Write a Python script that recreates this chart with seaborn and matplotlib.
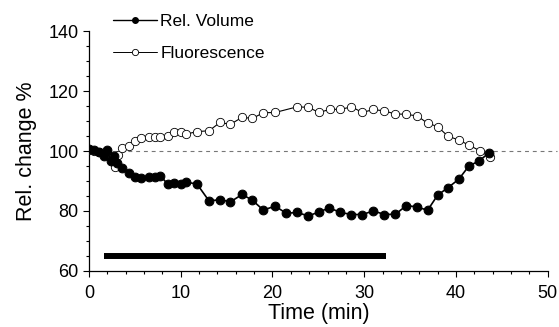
import numpy as np
import pandas as pd
import matplotlib
matplotlib.use('Agg')
import matplotlib.pyplot as plt
from matplotlib.lines import Line2D
from matplotlib.ticker import MultipleLocator
import seaborn as sns

# Values
time_vol = [0, 0.6, 1.1, 1.6, 2.0, 2.4, 2.7, 3.1, 3.6, 4.4, 5.0, 5.7, 6.5, 7.2, 7.8,
            8.6, 9.3, 10.0, 10.6, 11.8, 13.1, 14.3, 15.4, 16.7, 17.8, 19.0, 20.3,
            21.5, 22.7, 23.9, 25.1, 26.2, 27.4, 28.6, 29.8, 31.0, 32.2, 33.4, 34.6,
            35.8, 36.9, 38.0, 39.1, 40.3, 41.4, 42.5, 43.6]
rel_volume = [100.8, 100.2, 99.6, 98.2, 100.3, 96.8, 98.5, 96.0, 94.3, 92.7, 91.2,
              90.9, 91.4, 91.2, 91.7, 88.9, 89.2, 88.9, 89.7, 88.9, 83.3, 83.8, 83.0,
              85.5, 83.6, 80.3, 81.6, 79.2, 79.5, 78.3, 79.7, 81.0, 79.5, 78.8, 78.8,
              80.0, 78.8, 78.9, 81.8, 81.3, 80.2, 85.3, 87.7, 90.6, 95.0, 96.7, 99.4]

time_fl = [0, 0.6, 1.1, 1.6, 2.0, 2.4, 2.8, 3.2, 3.6, 4.4, 5.0, 5.7, 6.5, 7.2, 7.8,
           8.6, 9.3, 10.0, 10.6, 11.8, 13.1, 14.3, 15.4, 16.7, 17.8, 19.0, 20.3,
           22.7, 23.9, 25.1, 26.3, 27.4, 28.6, 29.8, 31.0, 32.2, 33.4, 34.6, 35.8,
           36.9, 38.0, 39.1, 40.3, 41.4, 42.6, 43.7]
fluorescence = [100.5, 100.0, 99.6, 99.0, 99.4, 97.8, 94.8, 98.6, 100.9, 101.8, 103.3,
                104.4, 104.7, 104.8, 104.8, 105.0, 106.5, 106.3, 105.7, 106.5, 106.8,
                109.6, 108.9, 111.3, 110.9, 112.8, 112.9, 114.8, 114.6, 112.9, 114.0,
                113.9, 114.8, 112.9, 113.9, 113.4, 112.4, 112.3, 111.7, 109.3, 108.2,
                105.0, 103.7, 102.0, 100.1, 97.9]

# stimulus bar and baseline
bar_time = [1.7, 32.4]
bar_level = [65, 65]
baseline_time = [0, 51]
baseline = [100, 100]

vol_df = pd.DataFrame({'time': time_vol, 'value': rel_volume})
fl_df = pd.DataFrame({'time': time_fl, 'value': fluorescence})

sns.set_style('ticks', {'axes.edgecolor': 'black', 'text.color': 'black',
                        'xtick.color': 'black', 'ytick.color': 'black',
                        'axes.labelcolor': 'black'})
plt.rcParams['font.family'] = ['Liberation Sans', 'DejaVu Sans']

fig = plt.figure(figsize=(5.59, 3.27), dpi=100)
ax = fig.add_axes([0.159, 0.172, 0.821, 0.732])

# dashed baseline
ax.plot(baseline_time, baseline, color='#777777', lw=0.8, dashes=(3.5, 3.5),
        clip_on=False, zorder=1)

# fluorescence (open circles)
sns.lineplot(data=fl_df, x='time', y='value', ax=ax, color='black', lw=0.8,
             marker='o', markersize=6, markerfacecolor='white',
             markeredgecolor='black', markeredgewidth=0.6, zorder=3)

# relative volume (filled circles)
sns.lineplot(data=vol_df, x='time', y='value', ax=ax, color='black', lw=1.2,
             marker='o', markersize=6.3, markerfacecolor='black',
             markeredgecolor='black', zorder=4)

# stimulus bar
ax.plot(bar_time, bar_level, color='black', lw=4.3, solid_capstyle='butt', zorder=2)

ax.set_xlim(0, 50)
ax.set_ylim(60, 140)
ax.xaxis.set_major_locator(MultipleLocator(10))
ax.xaxis.set_minor_locator(MultipleLocator(2))
ax.yaxis.set_major_locator(MultipleLocator(20))
ax.yaxis.set_minor_locator(MultipleLocator(5))
ax.tick_params(which='major', direction='out', length=4, width=0.8, labelsize=13)
ax.tick_params(axis='x', which='major', pad=6)
ax.tick_params(which='minor', direction='out', length=2.5, width=0.8)
for s in ['left', 'bottom']:
    ax.spines[s].set_linewidth(0.9)
sns.despine(ax=ax)

ax.set_xlabel('Time (min)', fontsize=15.5, labelpad=1)
ax.set_ylabel('Rel. change %', fontsize=15.5, labelpad=8)

handles = [
    Line2D([], [], color='black', lw=1.0, marker='o', markersize=4,
           markerfacecolor='black', markeredgecolor='black'),
    Line2D([], [], color='black', lw=0.7, marker='o', markersize=4.5,
           markerfacecolor='white', markeredgecolor='black', markeredgewidth=0.6),
]
ax.legend(handles, ['Rel. Volume', 'Fluorescence'], loc='upper left',
          bbox_to_anchor=(0.203, 0.958), bbox_transform=fig.transFigure,
          frameon=False, fontsize=12.5, handlelength=2.5, handletextpad=0.2,
          labelspacing=1.0, borderpad=0, borderaxespad=0)

plt.savefig('out.png', dpi=100)
